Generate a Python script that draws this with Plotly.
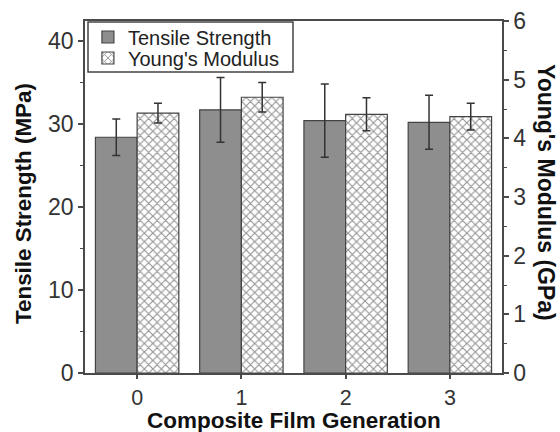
import plotly.graph_objects as go

generations = [0, 1, 2, 3]
tensile_strength = [28.4, 31.7, 30.4, 30.2]
tensile_err = [2.2, 3.9, 4.4, 3.25]
youngs_modulus = [4.43, 4.70, 4.41, 4.37]
youngs_err = [0.17, 0.25, 0.28, 0.23]
x_ticks = [0, 1, 2, 3]
left_ticks = [0, 10, 20, 30, 40]
right_ticks = [0, 1, 2, 3, 4, 5, 6]

FONT = "Liberation Sans, Arial, sans-serif"
DARK = "#333333"
LINE = "#4a4a4a"

fig = go.Figure()
fig.add_trace(go.Bar(
    x=generations, y=tensile_strength, name="Tensile Strength",
    width=0.4, offset=-0.4,
    marker=dict(color="#8e8e8e", line=dict(color="#444444", width=1.2)),
    error_y=dict(type="data", array=tensile_err, color="#333333", thickness=1.5, width=4),
    yaxis="y", legend="legend",
))
fig.add_trace(go.Bar(
    x=generations, y=youngs_modulus, name="Young's Modulus",
    width=0.4, offset=0.0,
    marker=dict(color="white", line=dict(color="#444444", width=1.2),
                pattern=dict(shape="x", fgcolor="#2a2a2a", bgcolor="white", size=6, solidity=0.35)),
    error_y=dict(type="data", array=youngs_err, color="#333333", thickness=1.5, width=4),
    yaxis="y2", legend="legend2",
))

leg_common = dict(x=0.007, xanchor="left", yanchor="middle",
                  bgcolor="rgba(0,0,0,0)", borderwidth=0,
                  font=dict(size=20, family=FONT, color="#222222"), itemwidth=30)

fig.update_layout(
    width=560, height=432,
    margin=dict(l=85, r=58, t=21, b=59, autoexpand=False),
    paper_bgcolor="white", plot_bgcolor="white",
    font=dict(family=FONT, color=DARK, size=23),
    showlegend=True,
    legend=dict(y=0.9545, **leg_common),
    legend2=dict(y=0.8949, **leg_common),
    shapes=[dict(type="rect", xref="paper", yref="paper",
                 x0=0.0072, x1=0.4988, y0=0.855, y1=0.997,
                 line=dict(color="#444444", width=1.5), fillcolor="rgba(0,0,0,0)",
                 layer="above")],
    xaxis=dict(range=[-0.5, 3.5], tickvals=x_ticks, ticktext=[str(v) for v in x_ticks],
               showline=True, linecolor=LINE, linewidth=1.5, mirror=True,
               ticks="outside", ticklen=4, tickcolor=LINE, tickwidth=1.5,
               showgrid=False, zeroline=False,
               tickfont=dict(size=21.5, family=FONT, color=DARK)),
    yaxis=dict(range=[0, 42.4], tickvals=left_ticks,
               showline=True, linecolor=LINE, linewidth=1.5,
               ticks="outside", ticklen=5, tickcolor=LINE, tickwidth=1.5,
               minor=dict(dtick=5, ticks="outside", ticklen=3, tickcolor=LINE, tickwidth=1.2, showgrid=False),
               showgrid=False, zeroline=False,
               tickfont=dict(size=23, family=FONT, color=DARK)),
    yaxis2=dict(range=[0, 6], tickvals=right_ticks, overlaying="y", side="right",
                showline=True, linecolor=LINE, linewidth=1.5,
                ticks="outside", ticklen=5, tickcolor=LINE, tickwidth=1.5,
                minor=dict(dtick=0.5, ticks="outside", ticklen=3, tickcolor=LINE, tickwidth=1.2, showgrid=False),
                showgrid=False, zeroline=False,
                tickfont=dict(size=23, family=FONT, color=DARK)),
    annotations=[
        dict(text="<b>Composite Film Generation</b>", xref="paper", yref="paper",
             x=0.5, y=0, yshift=-47, showarrow=False, xanchor="center", yanchor="middle",
             font=dict(size=22.5, family=FONT, color="#111111")),
        dict(text="<b>Tensile Strength (MPa)</b>", xref="paper", yref="paper",
             x=0, xshift=-62, y=0.5, yshift=-7, textangle=-90, showarrow=False,
             xanchor="center", yanchor="middle",
             font=dict(size=22.4, family=FONT, color="#111111")),
        dict(text="<b>Young's Modulus (GPa)</b>", xref="paper", yref="paper",
             x=1.0, xshift=44, y=0.5, yshift=5, textangle=90, showarrow=False,
             xanchor="center", yanchor="middle",
             font=dict(size=23, family=FONT, color="#111111")),
    ],
)

fig.write_html("out.html")
